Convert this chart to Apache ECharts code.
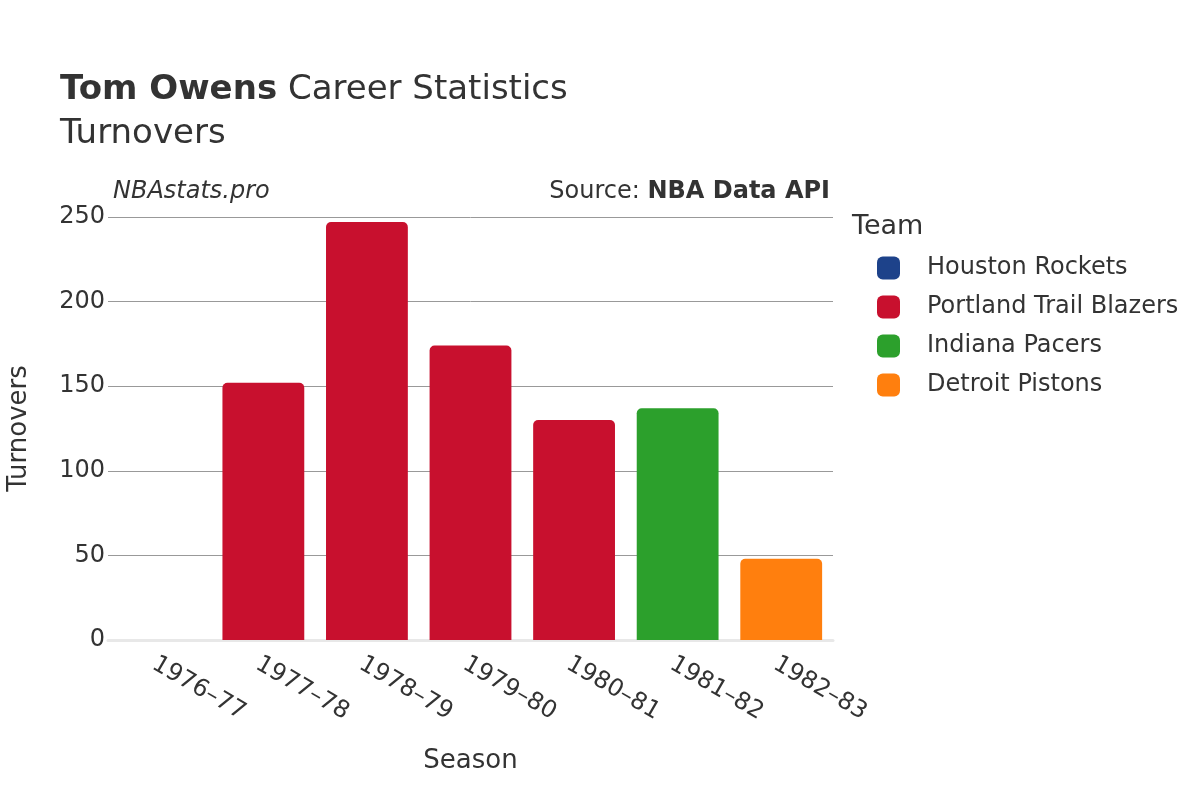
<!DOCTYPE html>
<html>
<head>
<meta charset="utf-8">
<script src="https://cdn.jsdelivr.net/npm/echarts@6/dist/echarts.min.js"></script>
<style>html,body{margin:0;padding:0;background:#fff}#c{width:1200px;height:800px}</style>
</head>
<body>
<div id="c"></div>
<script>
const seasons = ['1976–77','1977–78','1978–79','1979–80','1980–81','1981–82','1982–83'];
const teams = ['Houston Rockets','Portland Trail Blazers','Indiana Pacers','Detroit Pistons'];
const teamColors = ['#1d428a','#c8102e','#2ca02c','#ff7f0e'];
const houstonRockets = [0,'-','-','-','-','-','-'];
const portlandTrailBlazers = ['-',152,247,174,130,'-','-'];
const indianaPacers = ['-','-','-','-','-',137,'-'];
const detroitPistons = ['-','-','-','-','-','-',48];
const yTicks = [0,50,100,150,200,250];

const seriesData = [houstonRockets, portlandTrailBlazers, indianaPacers, detroitPistons];
const font = 'DejaVu Sans, sans-serif';
const chart = echarts.init(document.getElementById('c'));
chart.setOption({
  animation:false,
  textStyle:{fontFamily:font},
  title:{
    left:55, top:63,
    text:'{b|Tom Owens} Career Statistics\nTurnovers',
    textStyle:{fontFamily:font,fontSize:34,color:'#333',fontWeight:'normal',lineHeight:44,
      rich:{b:{fontFamily:font,fontSize:34,fontWeight:'bold',color:'#333'}}}
  },
  graphic:[
    {type:'text',left:113,top:180,style:{text:'NBAstats.pro',font:'italic 24px DejaVu Sans',fill:'#333'}},
    {type:'text',right:370,top:180,style:{rich:{a:{fontFamily:font,fontSize:24,fill:'#333'},b:{fontFamily:font,fontSize:24,fontWeight:'bold',fill:'#333'}},text:'{a|Source: }{b|NBA Data API}'}},
    {type:'text',left:852,top:213,style:{text:'Team',font:'27px DejaVu Sans',fill:'#333'}}
  ],
  legend:{
    orient:'vertical', left:872, top:251, itemWidth:23, itemHeight:23, itemGap:15,
    icon:'roundRect',
    textStyle:{fontFamily:font,fontSize:24,color:'#333',padding:[0,0,0,22]},
    data:teams
  },
  grid:{left:108,right:367,top:217,bottom:160,containLabel:false,outerBoundsMode:'none'},
  xAxis:{
    type:'category', data:seasons,
    name:'Season', nameLocation:'middle', nameGap:108,
    nameTextStyle:{fontFamily:font,fontSize:26,color:'#333'},
    axisLine:{show:true,lineStyle:{color:'#e8e8e8',width:3}},
    axisTick:{show:false},
    axisLabel:{rotate:-30,fontFamily:font,fontSize:24,color:'#333',margin:12,align:'left',verticalAlign:'top'}
  },
  yAxis:{
    type:'value', min:0, max:250, interval:50,
    name:'Turnovers', nameLocation:'middle', nameGap:76,
    nameTextStyle:{fontFamily:font,fontSize:26,color:'#333'},
    axisLine:{show:false}, axisTick:{show:false},
    axisLabel:{fontFamily:font,fontSize:24,color:'#333',margin:3,
      formatter:v=>yTicks.includes(v)?String(v):''},
    splitLine:{lineStyle:{color:'#999',width:1}}
  },
  series:teams.map((t,i)=>({
    name:t, type:'bar', stack:'total', data:seriesData[i], barWidth:'79%',
    itemStyle:{color:teamColors[i],borderRadius:[5,5,0,0]}
  }))
});
</script>
</body>
</html>
